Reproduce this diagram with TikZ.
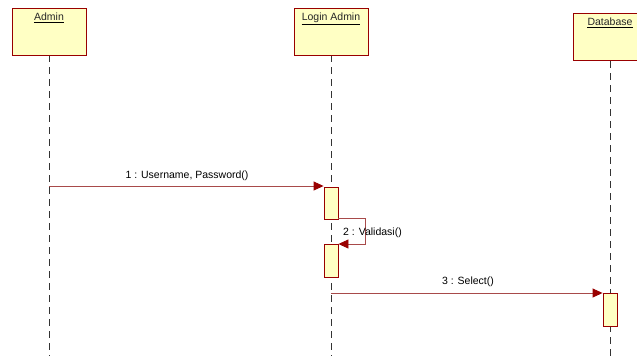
\documentclass[tikz,border=0pt]{standalone}
\usepackage{fontspec}
\setmainfont{Liberation Sans}
\usetikzlibrary{arrows.meta}
\definecolor{objfill}{HTML}{FFFFC4}
\definecolor{objline}{HTML}{990000}
\definecolor{msgline}{HTML}{A84A4A}
\definecolor{lifeline}{HTML}{333333}
\tikzset{
  objbox/.style={draw=objline, fill=objfill, line width=0.9pt, minimum width=74pt,
    minimum height=47pt, anchor=north, inner sep=0pt},
  actbox/.style={draw=objline, fill=objfill, line width=0.9pt, minimum width=14pt, inner sep=0pt},
  lifedash/.style={draw=lifeline, line width=0.8pt, dash pattern=on 7pt off 5pt},
  msg/.style={draw=msgline, line width=0.9pt, -{Triangle[length=10pt,width=9pt,fill=objline,color=objline]}},
  msglabel/.style={font=\fontsize{10.5}{12}\selectfont, text=black, inner sep=1pt},
  objtitle/.style={font=\fontsize{10.5}{12}\selectfont, anchor=north, inner sep=0pt, text=black!85},
  titlerule/.style={draw=black, line width=1.4pt}
}
\begin{document}
\begin{tikzpicture}[x=1pt,y=-1pt]
\useasboundingbox (0,0) rectangle (637,360);
\clip (0,0) rectangle (637,360);
\fill[white] (0,0) rectangle (637,360);

% lifelines
\draw[lifedash] (49,55) -- (49,356);
\draw[lifedash] (331,55) -- (331,356);
\draw[lifedash] (610,61) -- (610,356);

% objects
\node[objbox] (admin) at (49,8) {};
\node[objtitle] (admint) at (49,13) {Admin};
\draw[titlerule] ([yshift=-1.5pt]admint.south west) -- ([yshift=-1.5pt]admint.south east);
\node[objbox] (login) at (331,8) {};
\node[objtitle] (logint) at (331,13) {Login Admin};
\draw[titlerule] ([yshift=-1.5pt]logint.south west) -- ([yshift=-1.5pt]logint.south east);
\node[objbox] (db) at (610,13) {};
\node[objtitle] (dbt) at (610,18) {Database};
\draw[titlerule] ([yshift=-1.5pt]dbt.south west) -- ([yshift=-1.5pt]dbt.south east);

% activations
\node[actbox, minimum height=32pt, anchor=north] (act1) at (331,187) {};
\node[actbox, minimum height=33pt, anchor=north] (act2) at (331,244) {};
\node[actbox, minimum height=33pt, anchor=north] (act3) at (610,293) {};

% messages
\coordinate (m1s) at (49,186);
\draw[msg] (m1s) -- (m1s -| act1.west);
\node[msglabel] at (187,176) {1 : Username, Password()};

\coordinate (selfa) at (act1.south east);
\coordinate (selfb) at (act2.north east);
\draw[msg] ([yshift=1pt]selfa) -- ++(27,0) |- (selfb);
\node[msglabel, anchor=west] at (342,233) {2 : Validasi()};

\coordinate (m3s) at (331,293);
\draw[msg] (m3s) -- (m3s -| act3.west);
\node[msglabel] at (468,282) {3 : Select()};
\end{tikzpicture}
\end{document}
